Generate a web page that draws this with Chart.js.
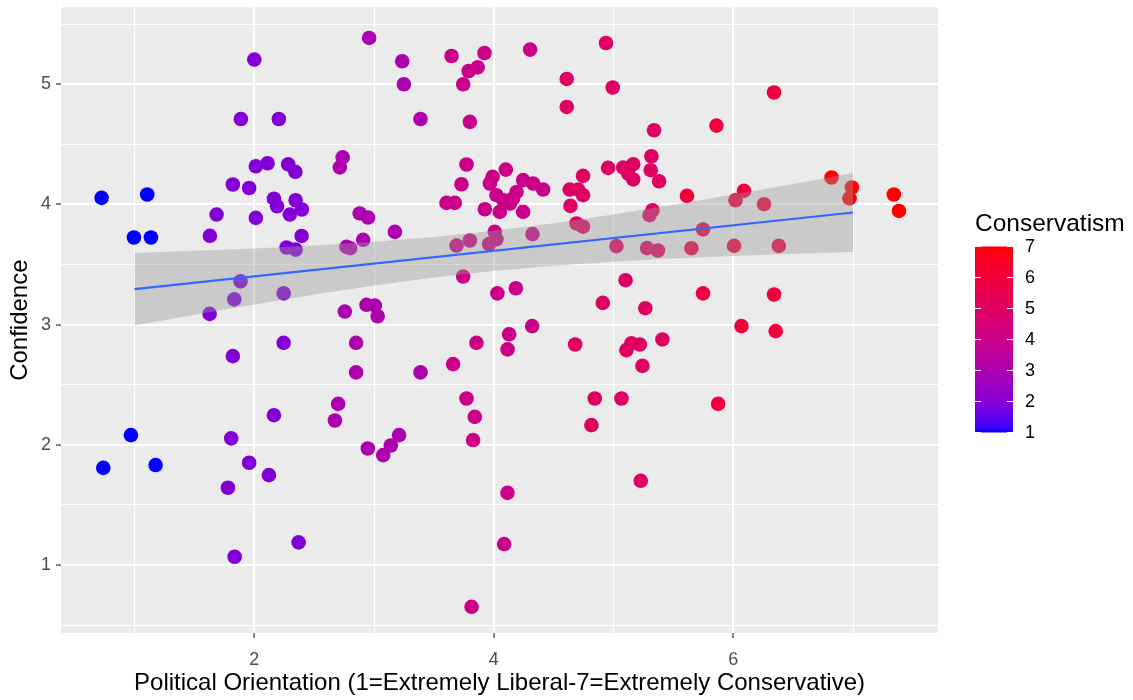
<!DOCTYPE html>
<html>
<head>
<meta charset="utf-8">
<script src="https://cdn.jsdelivr.net/npm/chart.js@4/dist/chart.umd.min.js"></script>
<style>
  html, body { margin: 0; padding: 0; background: #ffffff; }
  canvas { display: block; }
</style>
</head>
<body>
<canvas id="chart" width="1133" height="700"></canvas>
<script>
// Respondents: jittered political orientation (x), confidence (y), conservatism score (colour)
const orientation = [
  0.725, 1.106, 0.995, 1.137, 0.970, 0.739, 1.176,
  2.000, 1.888, 2.205, 1.685, 1.629, 1.821, 1.957, 2.013, 2.111, 2.283, 2.343, 2.013, 2.164, 2.190, 2.345, 2.397, 2.297,
  2.395, 2.270, 2.345, 1.885, 1.833, 2.245, 1.627, 2.245, 1.821, 2.164, 1.807, 1.957, 2.122, 1.780, 2.370, 1.836,
  2.959, 3.235, 3.249, 3.388, 2.738, 2.714, 2.880, 2.950, 2.909, 3.174, 2.770, 2.800, 2.756, 2.937, 3.007, 3.030,
  2.850, 2.850, 3.388, 2.700, 2.673, 2.948, 3.076, 3.140, 3.209,
  3.647, 3.922, 3.790, 3.865, 3.744, 3.800, 4.303, 3.772, 3.730, 4.100, 3.990, 3.967, 3.605, 3.674, 3.925, 4.022,
  4.080, 4.135, 4.050, 4.245, 4.328, 4.412, 4.190, 4.161, 4.245, 4.008, 4.022, 3.960, 3.800, 3.689, 4.323, 3.744,
  4.030, 4.184, 4.320, 4.128, 4.115, 3.660, 3.855, 3.772, 3.841, 3.827, 4.114, 4.086, 3.814,
  4.609, 4.609, 4.937, 4.993, 5.338, 5.316, 5.310, 5.380, 4.954, 5.080, 5.164, 5.122, 5.164, 4.745, 4.634, 4.704,
  4.745, 4.640, 5.325, 5.300, 4.690, 4.745, 5.024, 5.280, 5.370, 5.100, 4.910, 5.265, 4.679, 5.107, 5.149, 5.219,
  5.241, 5.408, 4.843, 5.066, 4.815, 5.227,
  6.340, 5.859, 5.613, 5.747, 5.650, 6.006, 6.380, 6.018, 6.089, 6.256, 5.747, 6.340, 6.068, 6.354, 5.873,
  6.820, 6.990, 6.970, 7.340, 7.383
];
const confidence = [
  4.055, 4.083, 3.725, 3.725, 2.081, 1.809, 1.832,
  5.205, 4.711, 4.711, 3.916, 3.739, 4.166, 4.137, 4.318, 4.343, 4.333, 4.271, 3.888, 4.048, 3.985, 4.035, 3.958, 3.916,
  3.738, 3.642, 3.624, 3.360, 3.210, 3.260, 3.090, 2.849, 2.738, 2.247, 2.054, 1.851, 1.748, 1.643, 1.189, 1.069,
  5.385, 5.191, 5.000, 4.711, 4.392, 4.308, 3.925, 3.891, 3.706, 3.772, 3.647, 3.636, 3.109, 3.165, 3.159, 3.070,
  2.849, 2.603, 2.603, 2.341, 2.203, 1.970, 1.915, 1.995, 2.081,
  5.235, 5.260, 5.110, 5.140, 5.000, 4.687, 5.288, 4.332, 4.168, 4.290, 4.229, 4.174, 4.013, 4.013, 3.960, 4.077,
  4.035, 4.008, 3.938, 4.202, 4.174, 4.124, 4.104, 4.050, 3.938, 3.772, 3.710, 3.670, 3.700, 3.658, 3.753, 3.400,
  3.260, 3.303, 2.988, 2.920, 2.794, 2.672, 2.849, 2.386, 2.233, 2.040, 1.601, 1.175, 0.653,
  5.044, 4.811, 5.343, 4.973, 4.617, 4.401, 4.285, 4.193, 4.304, 4.307, 4.335, 4.257, 4.208, 4.238, 4.124, 4.124,
  4.077, 3.988, 3.952, 3.911, 3.842, 3.815, 3.653, 3.637, 3.617, 3.370, 3.181, 3.137, 2.835, 2.788, 2.844, 2.835,
  2.657, 2.877, 2.386, 2.386, 2.164, 1.701,
  4.931, 4.656, 4.071, 3.792, 3.636, 3.655, 3.655, 4.035, 4.113, 4.002, 3.260, 3.251, 2.988, 2.946, 2.341,
  4.224, 4.141, 4.050, 4.083, 3.946
];
const conservatism = [
  1, 1, 1, 1, 1, 1, 1,
  2, 2, 2, 2, 2, 2, 2, 2, 2, 2, 2, 2, 2, 2, 2, 2, 2,
  2, 2, 2, 2, 2, 2, 2, 2, 2, 2, 2, 2, 2, 2, 2, 2,
  3, 3, 3, 3, 3, 3, 3, 3, 3, 3, 3, 3, 3, 3, 3, 3,
  3, 3, 3, 3, 3, 3, 3, 3, 3,
  4, 4, 4, 4, 4, 4, 4, 4, 4, 4, 4, 4, 4, 4, 4, 4,
  4, 4, 4, 4, 4, 4, 4, 4, 4, 4, 4, 4, 4, 4, 4, 4,
  4, 4, 4, 4, 4, 4, 4, 4, 4, 4, 4, 4, 4,
  5, 5, 5, 5, 5, 5, 5, 5, 5, 5, 5, 5, 5, 5, 5, 5,
  5, 5, 5, 5, 5, 5, 5, 5, 5, 5, 5, 5, 5, 5, 5, 5,
  5, 5, 5, 5, 5, 5,
  6, 6, 6, 6, 6, 6, 6, 6, 6, 6, 6, 6, 6, 6, 6,
  7, 7, 7, 7, 7
];

// Linear fit and its 95% confidence band
const fitX = [1, 7];
const fitY = [3.295, 3.933];
const bandX = [1, 1.5, 2, 2.5, 3, 3.5, 4, 4.5, 5, 5.5, 6, 6.5, 7];
const bandLower = [2.993, 3.082, 3.168, 3.251, 3.326, 3.392, 3.447, 3.490, 3.524, 3.551, 3.572, 3.590, 3.605];
const bandUpper = [3.597, 3.614, 3.634, 3.659, 3.690, 3.730, 3.781, 3.844, 3.916, 3.997, 4.082, 4.170, 4.261];

// Axis breaks
const xGridValues = [1, 2, 3, 4, 5, 6, 7];
const xTickLabels = [2, 4, 6];
const yGridValues = [0.5, 1, 1.5, 2, 2.5, 3, 3.5, 4, 4.5, 5, 5.5];
const yTickLabels = [1, 2, 3, 4, 5];
const legendTicks = [1, 2, 3, 4, 5, 6, 7];

// ---- colour scale: blue -> red interpolated in CIE Lab ----
function toLinear(c) { c /= 255; return c <= 0.04045 ? c / 12.92 : Math.pow((c + 0.055) / 1.055, 2.4); }
function fromLinear(c) {
  c = Math.min(1, Math.max(0, c));
  const v = c <= 0.0031308 ? 12.92 * c : 1.055 * Math.pow(c, 1 / 2.4) - 0.055;
  return Math.round(v * 255);
}
const WHITE = [0.95047, 1.0, 1.08883];
function rgbToLab(r, g, b) {
  const R = toLinear(r), G = toLinear(g), B = toLinear(b);
  const X = (0.4124564 * R + 0.3575761 * G + 0.1804375 * B) / WHITE[0];
  const Y = (0.2126729 * R + 0.7151522 * G + 0.0721750 * B) / WHITE[1];
  const Z = (0.0193339 * R + 0.1191920 * G + 0.9503041 * B) / WHITE[2];
  const f = t => t > 0.008856 ? Math.cbrt(t) : 7.787 * t + 16 / 116;
  const fx = f(X), fy = f(Y), fz = f(Z);
  return [116 * fy - 16, 500 * (fx - fy), 200 * (fy - fz)];
}
function labToRgb(L, a, b) {
  const fy = (L + 16) / 116, fx = fy + a / 500, fz = fy - b / 200;
  const inv = t => { const t3 = t * t * t; return t3 > 0.008856 ? t3 : (t - 16 / 116) / 7.787; };
  const X = WHITE[0] * inv(fx), Y = WHITE[1] * inv(fy), Z = WHITE[2] * inv(fz);
  const R = 3.2404542 * X - 1.5371385 * Y - 0.4985314 * Z;
  const G = -0.9692660 * X + 1.8760108 * Y + 0.0415560 * Z;
  const B = 0.0556434 * X - 0.2040259 * Y + 1.0572252 * Z;
  return [fromLinear(R), fromLinear(G), fromLinear(B)];
}
const LOW_LAB = rgbToLab(0, 0, 255);
const HIGH_LAB = rgbToLab(255, 0, 0);
const SCALE_MIN = 1, SCALE_MAX = 7;
function colourFor(v) {
  const t = (v - SCALE_MIN) / (SCALE_MAX - SCALE_MIN);
  const lab = LOW_LAB.map((c, i) => c + (HIGH_LAB[i] - c) * t);
  const [r, g, b] = labToRgb(lab[0], lab[1], lab[2]);
  return `rgb(${r},${g},${b})`;
}

const FONT = "'Liberation Sans', Arial, Helvetica, sans-serif";
Chart.defaults.font.family = FONT;

// grey panel behind the plotting area
const panelBackground = {
  id: 'panelBackground',
  beforeDraw(chart) {
    const { ctx, chartArea: a } = chart;
    ctx.save();
    ctx.fillStyle = '#ffffff';
    ctx.fillRect(0, 0, chart.width, chart.height);
    ctx.fillStyle = '#EBEBEB';
    ctx.fillRect(a.left, a.top, a.right - a.left, a.bottom - a.top);
    ctx.restore();
  }
};

// continuous colour bar legend
const colourBar = {
  id: 'colourBar',
  afterDraw(chart) {
    const { ctx } = chart;
    const bar = { left: 975, top: 246.5, width: 38, height: 186 };
    const yFor = v => bar.top + bar.height * (1 - (v - SCALE_MIN) / (SCALE_MAX - SCALE_MIN));
    ctx.save();
    const grad = ctx.createLinearGradient(0, bar.top + bar.height, 0, bar.top);
    for (let i = 0; i <= 60; i++) {
      const v = SCALE_MIN + (SCALE_MAX - SCALE_MIN) * i / 60;
      grad.addColorStop(i / 60, colourFor(v));
    }
    ctx.fillStyle = grad;
    ctx.fillRect(bar.left, bar.top, bar.width, bar.height);

    ctx.strokeStyle = '#ffffff';
    ctx.lineWidth = 1.2;
    const tl = 6;
    legendTicks.forEach(v => {
      const y = yFor(v);
      ctx.beginPath();
      ctx.moveTo(bar.left, y); ctx.lineTo(bar.left + tl, y);
      ctx.moveTo(bar.left + bar.width - tl, y); ctx.lineTo(bar.left + bar.width, y);
      ctx.stroke();
    });

    ctx.fillStyle = '#000000';
    ctx.font = `18px ${FONT}`;
    ctx.textAlign = 'left';
    ctx.textBaseline = 'middle';
    legendTicks.forEach(v => ctx.fillText(String(v), 1025, yFor(v) + 1));

    ctx.font = `24.5px ${FONT}`;
    ctx.textBaseline = 'alphabetic';
    ctx.fillText('Conservatism', 975, 231);
    ctx.restore();
  }
};

const isIn = (list, v) => list.some(x => Math.abs(x - v) < 1e-9);

const points = orientation.map((x, i) => ({ x, y: confidence[i] }));
const pointColours = conservatism.map(colourFor);

new Chart(document.getElementById('chart'), {
  type: 'line',
  data: {
    datasets: [
      {
        type: 'line',
        data: fitX.map((x, i) => ({ x, y: fitY[i] })),
        borderColor: '#3366FF',
        borderWidth: 2.2,
        pointRadius: 0,
        fill: false,
        order: 0
      },
      {
        type: 'line',
        data: bandX.map((x, i) => ({ x, y: bandUpper[i] })),
        borderWidth: 0,
        borderColor: 'rgba(0,0,0,0)',
        backgroundColor: 'rgba(153,153,153,0.4)',
        pointRadius: 0,
        fill: '+1',
        order: 1
      },
      {
        type: 'line',
        data: bandX.map((x, i) => ({ x, y: bandLower[i] })),
        borderWidth: 0,
        borderColor: 'rgba(0,0,0,0)',
        pointRadius: 0,
        fill: false,
        order: 1
      },
      {
        type: 'scatter',
        data: points,
        backgroundColor: pointColours,
        pointBackgroundColor: pointColours,
        pointBorderWidth: 0,
        borderWidth: 0,
        pointRadius: 7.3,
        pointHoverRadius: 7.3,
        order: 2
      }
    ]
  },
  options: {
    responsive: false,
    animation: false,
    events: [],
    layout: { padding: { left: 0, top: 7, right: 195, bottom: 0 } },
    plugins: {
      legend: { display: false },
      tooltip: { enabled: false }
    },
    scales: {
      x: {
        type: 'linear',
        min: 0.386,
        max: 7.709,
        afterBuildTicks: axis => { axis.ticks = xGridValues.map(v => ({ value: v })); },
        afterFit: axis => { axis.height = 67; axis.paddingLeft = 0; axis.paddingRight = 0; },
        border: { display: false },
        grid: {
          color: '#ffffff',
          lineWidth: c => (c.tick && isIn(xTickLabels, c.tick.value)) ? 2 : 1,
          tickLength: 5,
          tickWidth: 1.2,
          tickColor: c => (c.tick && isIn(xTickLabels, c.tick.value)) ? '#333333' : 'rgba(0,0,0,0)'
        },
        ticks: {
          autoSkip: false,
          maxRotation: 0,
          color: '#4D4D4D',
          font: { size: 18 },
          padding: 11,
          callback: v => isIn(xTickLabels, v) ? String(v) : ''
        },
        title: {
          display: true,
          text: 'Political Orientation (1=Extremely Liberal-7=Extremely Conservative)',
          color: '#000000',
          font: { size: 24 },
          padding: { top: 0, bottom: 2 }
        }
      },
      y: {
        type: 'linear',
        min: 0.435,
        max: 5.64,
        afterBuildTicks: axis => { axis.ticks = yGridValues.map(v => ({ value: v })); },
        afterFit: axis => { axis.width = 61; axis.paddingTop = 0; axis.paddingBottom = 0; },
        border: { display: false },
        grid: {
          color: '#ffffff',
          lineWidth: c => (c.tick && isIn(yTickLabels, c.tick.value)) ? 2 : 1,
          tickLength: 5,
          tickWidth: 1.2,
          tickColor: c => (c.tick && isIn(yTickLabels, c.tick.value)) ? '#333333' : 'rgba(0,0,0,0)'
        },
        ticks: {
          color: '#4D4D4D',
          font: { size: 18 },
          padding: 5,
          callback: v => isIn(yTickLabels, v) ? String(v) : ''
        },
        title: {
          display: true,
          text: 'Confidence',
          color: '#000000',
          font: { size: 24 },
          padding: { top: 6, bottom: 0 }
        }
      }
    }
  },
  plugins: [panelBackground, colourBar]
});
</script>
</body>
</html>
